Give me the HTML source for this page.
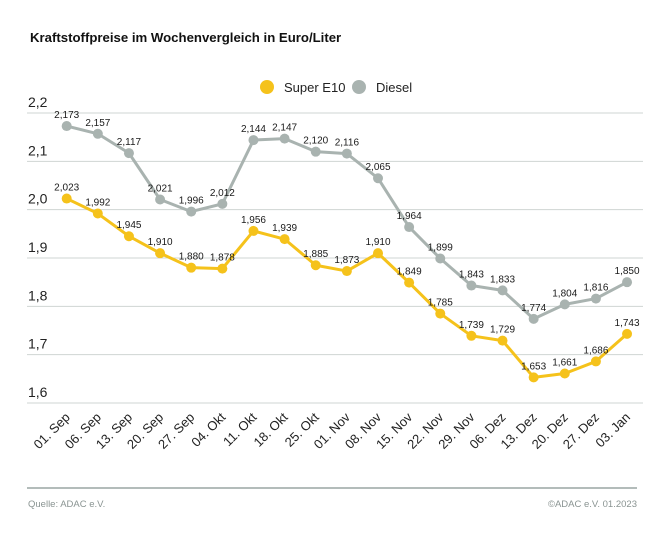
<!DOCTYPE html>
<html><head><meta charset="utf-8"><style>
body{margin:0;background:#fff;}
svg{display:block;font-family:"Liberation Sans","DejaVu Sans",sans-serif;}
</style></head><body>
<svg id="c" width="668" height="544" viewBox="0 0 668 544" xmlns="http://www.w3.org/2000/svg">
<text x="30" y="42" font-size="13.2" font-weight="bold" fill="#111">Kraftstoffpreise im Wochenvergleich in Euro/Liter</text>
<circle cx="267" cy="87" r="7" fill="#f5c21b"/>
<text x="284" y="92" font-size="13" fill="#222">Super E10</text>
<circle cx="359" cy="87" r="7" fill="#a9b3b0"/>
<text x="376" y="92" font-size="13" fill="#222">Diesel</text>
<g id="grid"></g>
<g id="series"></g>
<line x1="27" y1="488" x2="637" y2="488" stroke="#9aa5a3" stroke-width="1.5"/>
<text x="28" y="507" font-size="9.5" fill="#8a9492">Quelle: ADAC e.V.</text>
<text x="637" y="507" font-size="9.5" fill="#8a9492" text-anchor="end">©ADAC e.V.  01.2023</text>
</svg>
<script>
const ns="http://www.w3.org/2000/svg";
function el(t,a,p,txt){const e=document.createElementNS(ns,t);for(const k in a)e.setAttribute(k,a[k]);if(txt!=null)e.textContent=txt;p.appendChild(e);return e;}
const Y=v=>113+(2.2-v)*483.3, X=i=>66.7+i*31.13;
const g=document.getElementById('grid'), s=document.getElementById('series');
[2.2,2.1,2.0,1.9,1.8,1.7,1.6].forEach(v=>{
 el('line',{x1:27,x2:643,y1:Y(v),y2:Y(v),stroke:'#cfd4d3','stroke-width':1},g);
 el('text',{x:28,y:Y(v)-6,'font-size':14,fill:'#222'},g,v.toFixed(1).replace('.',','));
});
const lab=["01. Sep","06. Sep","13. Sep","20. Sep","27. Sep","04. Okt","11. Okt","18. Okt","25. Okt","01. Nov","08. Nov","15. Nov","22. Nov","29. Nov","06. Dez","13. Dez","20. Dez","27. Dez","03. Jan"];
lab.forEach((l,i)=>{const x=X(i)+4,y=418;el('text',{x:x,y:y,'font-size':13,fill:'#222','text-anchor':'end',transform:`rotate(-45 ${x} ${y})`},g,l);});
const d=[2.173,2.157,2.117,2.021,1.996,2.012,2.144,2.147,2.120,2.116,2.065,1.964,1.899,1.843,1.833,1.774,1.804,1.816,1.850];
const e=[2.023,1.992,1.945,1.910,1.880,1.878,1.956,1.939,1.885,1.873,1.910,1.849,1.785,1.739,1.729,1.653,1.661,1.686,1.743];
function ser(a,c){
 el('polyline',{points:a.map((v,i)=>X(i)+','+Y(v)).join(' '),fill:'none',stroke:c,'stroke-width':3,'stroke-linejoin':'round'},s);
 a.forEach((v,i)=>{el('circle',{cx:X(i),cy:Y(v),r:5,fill:c},s);
  el('text',{x:X(i),y:Y(v)-8,'font-size':10,fill:'#1a1a1a','text-anchor':'middle'},s,v.toFixed(3).replace('.',','));});
}
ser(d,'#a9b3b0');ser(e,'#f5c21b');
</script>
</body></html>
